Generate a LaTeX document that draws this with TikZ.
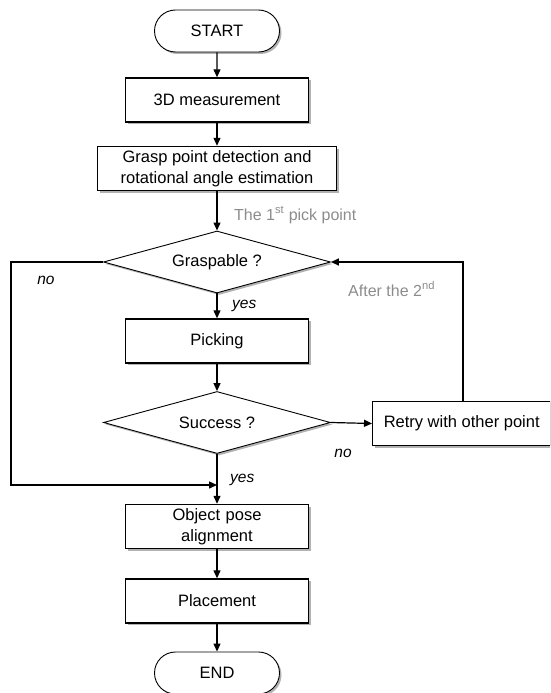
\documentclass[tikz,border=0pt]{standalone}
\usepackage{fontspec}
\setmainfont{Liberation Sans}
\usetikzlibrary{shapes.geometric,shapes.misc,shadows,arrows.meta}
\begin{document}
\begin{tikzpicture}[x=1pt,y=-1pt,
  shd/.style={drop shadow={shadow xshift=2pt,shadow yshift=-2pt,fill=black,opacity=0.3}},
  procbox/.style={draw=black,line width=1.4pt,fill=white,shd,inner sep=0pt,
    minimum width=183pt,minimum height=44pt,align=center,
    font=\fontsize{16.5}{20.5}\selectfont},
  termbox/.style={rounded rectangle,draw=black,line width=0.9pt,fill=white,shd,inner sep=0pt,
    minimum width=125pt,minimum height=42pt,font=\fontsize{16.5}{20.5}\selectfont},
  decbox/.style={diamond,draw=black,line width=0.9pt,fill=white,shd,inner sep=0pt,
    minimum width=227pt,minimum height=62pt,aspect=3.6,font=\fontsize{16.5}{20.5}\selectfont},
  conn/.style={line width=1.2pt,-{Triangle[length=8pt,width=7pt]}},
  loopline/.style={line width=1.5pt,-{Triangle[length=8pt,width=7pt]}},
  graylbl/.style={text=black!45,font=\fontsize{16}{19}\selectfont,inner sep=0pt},
  itlbl/.style={font=\fontsize{15.5}{18}\selectfont\itshape,inner sep=0pt}
]
\useasboundingbox (0,0) rectangle (550,693);
\clip (0,0) rectangle (550,693);

\node[termbox] (start) at (217,31) {START};
\node[procbox] (meas) at (217,100) {3D measurement};
\node[procbox,minimum width=239pt] (grasp) at (217,168.5) {Grasp point detection and\\rotational angle estimation};
\node[decbox] (gq) at (217,262) {Graspable ?};
\node[procbox] (pick) at (217,341) {Picking};
\node[decbox] (sq) at (217,422.5) {Success ?};
\node[procbox,minimum width=178pt,anchor=west] (retry) at (372,423.5) {Retry with other point};
\node[procbox,text width=170pt] (obj) at (217,526.5) {Object pose\\alignment};
\node[procbox] (place) at (217,601) {Placement};
\node[termbox] (end) at (217,673) {END};

\coordinate (lcorner1) at (11,262);
\coordinate (lcorner2) at (11,485);
\coordinate (join) at (217,485);
\coordinate (rcorner) at (463,262);

\draw[conn] (start) -- (meas);
\draw[conn] (meas) -- (grasp);
\draw[conn] (grasp) -- (gq);
\draw[conn] (gq) -- (pick);
\draw[conn] (pick) -- (sq);
\draw[conn] (sq.east) -- (retry.west);
\draw[loopline] (retry.north -| rcorner) -- (rcorner) -- (gq.east);
\draw[loopline] (gq.west) -- (lcorner1) -- (lcorner2) -- (join);
\draw[conn] (sq.south) -- (obj.north);
\draw[conn] (obj) -- (place);
\draw[conn] (place) -- (end);

\node[graylbl,anchor=west] (l1) at (234,215) {The 1\textsuperscript{st} pick point};
\node[graylbl,anchor=west] (l2) at (348,289) {After the 2\textsuperscript{nd}};
\node[itlbl] (no1) at (46,280) {no};
\node[itlbl,anchor=west] (yes1) at (232,306) {yes};
\node[itlbl] (no2) at (343,453) {no};
\node[itlbl,anchor=west] (yes2) at (230,480) {yes};
\end{tikzpicture}
\end{document}
